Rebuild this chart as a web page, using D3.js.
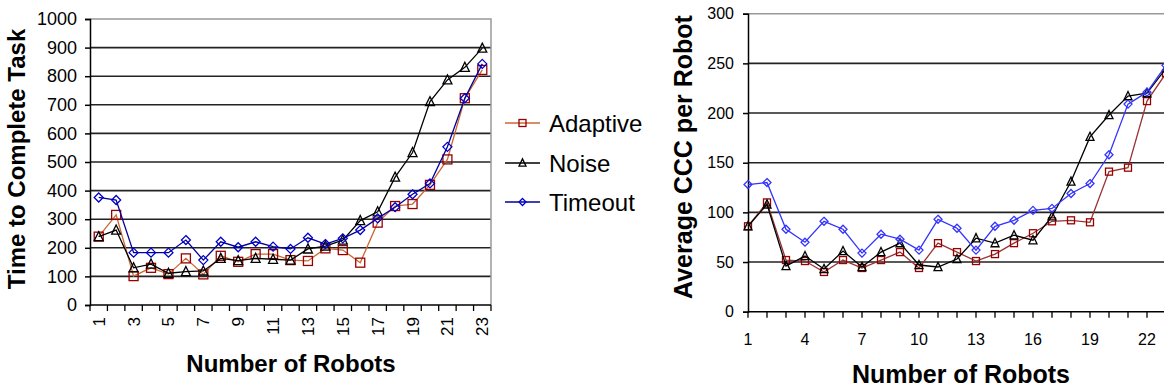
<!DOCTYPE html>
<html><head><meta charset="utf-8">
<script src="https://cdn.jsdelivr.net/npm/d3@7"></script>
<style>body{margin:0;background:#fff}svg{display:block;font-family:"Liberation Sans",Arial,sans-serif}</style>
</head><body><svg id="c" width="1164" height="390"></svg>
<script>
const robots = d3.range(1, 24);
const leftYTicks = [0,100,200,300,400,500,600,700,800,900,1000];
const leftXLabels = [1,3,5,7,9,11,13,15,17,19,21,23];
const leftAdaptive = [239,315,101,130,108,163,107,172,151,178,178,157,154,198,192,148,288,346,353,420,509,723,822];
const leftNoise    = [239,262,130,143,111,117,119,163,155,163,160,157,196,206,227,295,326,447,533,711,787,831,898];
const leftTimeout  = [376,367,183,183,183,227,157,221,202,221,204,196,235,213,233,262,303,342,387,425,553,723,843];
const rightYTicks = [0,50,100,150,200,250,300];
const rightXLabels = [1,4,7,10,13,16,19,22];
const rightAdaptive = [86,110,52,51,40,52,44,52,60,44,69,60,51,58,69,79,91,92,90,141,145,212,240];
const rightNoise    = [86,108,46,56,43,61,45,60,69,47,45,53,74,69,77,72,96,131,176,198,217,220,245];
const rightTimeout  = [128,130,83,70,91,83,59,78,73,62,93,84,62,86,92,102,104,119,129,158,209,221,248];
const seriesNames = ["Adaptive","Noise","Timeout"];

const svg = d3.select("#c");
const FONT = '"Liberation Sans",Arial,sans-serif';

function marker(g, type, x, y, s, color){
  if(type==="square"){
    g.append("rect").attr("x",x-s/2).attr("y",y-s/2).attr("width",s).attr("height",s)
      .attr("fill","none").attr("stroke",color).attr("stroke-width",1.3);
  } else if(type==="triangle"){
    const h=s*0.9;
    g.append("path").attr("d",`M${x},${y-h/2-1}L${x+s/2},${y+h/2}L${x-s/2},${y+h/2}Z`)
      .attr("fill","none").attr("stroke",color).attr("stroke-width",1.3);
  } else {
    const r=s/2;
    g.append("path").attr("d",`M${x},${y-r}L${x+r},${y}L${x},${y+r}L${x-r},${y}Z`)
      .attr("fill","none").attr("stroke",color).attr("stroke-width",1.3);
  }
}

// ---------- LEFT CHART ----------
{
  const x0=90, x1=491, y0=19, y1=305;
  const x = d3.scaleBand().domain(robots).range([x0,x1]);
  const y = d3.scaleLinear().domain([0,1000]).range([y1,y0]);
  const g = svg.append("g");
  // gridlines
  g.selectAll(".gl").data(leftYTicks.filter(d=>d>0&&d<1000)).join("line")
    .attr("x1",x0).attr("x2",x1).attr("y1",d=>y(d)).attr("y2",d=>y(d))
    .attr("stroke","#222").attr("stroke-width",1.6);
  // border top/right gray
  g.append("path").attr("d",`M${x0},${y(1000)}H${x1}V${y1}`).attr("fill","none").attr("stroke","#999").attr("stroke-width",1.5);
  // y axis
  const ya = g.append("g").attr("transform",`translate(${x0},0)`)
    .call(d3.axisLeft(y).tickValues(leftYTicks).tickSize(5).tickPadding(8).tickFormat(d3.format("d")));
  ya.select(".domain").attr("stroke","#000").attr("stroke-width",1.5);
  ya.selectAll("line").attr("stroke","#000").attr("stroke-width",1.5);
  ya.selectAll("text").attr("font-family",FONT).attr("font-size",18).attr("fill","#000");
  // x axis
  g.append("line").attr("x1",x0).attr("x2",x1).attr("y1",y1).attr("y2",y1).attr("stroke","#000").attr("stroke-width",1.5);
  const bounds = robots.map(d=>x(d)).concat([x1]);
  g.selectAll(".xt").data(bounds).join("line")
    .attr("x1",d=>d).attr("x2",d=>d).attr("y1",y1).attr("y2",y1+6).attr("stroke","#000").attr("stroke-width",1.3);
  g.selectAll(".xl").data(leftXLabels).join("text")
    .attr("transform",d=>`translate(${x(d)+x.bandwidth()/2+6},${y1+12}) rotate(-90)`)
    .attr("text-anchor","end").attr("font-size",17).attr("font-family",FONT).text(d=>d);
  // titles
  g.append("text").attr("transform",`translate(25,159) rotate(-90)`).attr("text-anchor","middle")
    .attr("font-weight","bold").attr("font-size",24).attr("font-family",FONT).text("Time to Complete Task");
  g.append("text").attr("x",291).attr("y",372).attr("text-anchor","middle")
    .attr("font-weight","bold").attr("font-size",24).attr("font-family",FONT).text("Number of Robots");
  // series
  const cx = d=>x(d)+x.bandwidth()/2;
  const defs = [
    {v:leftAdaptive, line:"#cc6633", mk:"#990000", type:"square", s:9},
    {v:leftNoise, line:"#000", mk:"#000", type:"triangle", s:9},
    {v:leftTimeout, line:"#000099", mk:"#0000cc", type:"diamond", s:9}
  ];
  defs.forEach(sr=>{
    const data = robots.map((r,i)=>[cx(r), y(sr.v[i])]);
    g.append("path").attr("d",d3.line()(data)).attr("fill","none").attr("stroke",sr.line).attr("stroke-width",1.3);
    data.forEach(p=>marker(g,sr.type,p[0],p[1],sr.s,sr.mk));
  });
  // legend
  const ly = [123,163,202];
  defs.forEach((sr,i)=>{
    g.append("line").attr("x1",505).attr("x2",540).attr("y1",ly[i]).attr("y2",ly[i]).attr("stroke",sr.line).attr("stroke-width",1.5);
    marker(g,sr.type,522.5,ly[i],7,sr.mk);
    g.append("text").attr("x",549).attr("y",ly[i]+8.5).attr("font-size",24).attr("font-family",FONT).text(seriesNames[i]);
  });
}

// ---------- RIGHT CHART ----------
{
  const x0=748, y0=13.7, y1=311.7;
  const x = d3.scalePoint().domain(robots).range([748, 748+22*19]);
  const x1 = 1175;
  const y = d3.scaleLinear().domain([0,300]).range([y1,y0]);
  const g = svg.append("g");
  g.selectAll(".gl").data(rightYTicks.filter(d=>d>0&&d<300)).join("line")
    .attr("x1",x0).attr("x2",x1).attr("y1",d=>y(d)).attr("y2",d=>y(d))
    .attr("stroke","#222").attr("stroke-width",1.6);
  g.append("line").attr("x1",x0).attr("x2",x1).attr("y1",y(300)).attr("y2",y(300)).attr("stroke","#999").attr("stroke-width",1.5);
  const ya = g.append("g").attr("transform",`translate(${x0},0)`)
    .call(d3.axisLeft(y).tickValues(rightYTicks).tickSize(5).tickPadding(9).tickFormat(d3.format("d")));
  ya.select(".domain").attr("stroke","#000").attr("stroke-width",1.5);
  ya.selectAll("line").attr("stroke","#000").attr("stroke-width",1.5);
  ya.selectAll("text").attr("font-family",FONT).attr("font-size",16).attr("fill","#000");
  g.append("line").attr("x1",x0).attr("x2",x1).attr("y1",y1).attr("y2",y1).attr("stroke","#000").attr("stroke-width",1.5);
  g.selectAll(".xt").data(robots).join("line")
    .attr("x1",d=>x(d)).attr("x2",d=>x(d)).attr("y1",y1).attr("y2",y1+6).attr("stroke","#000").attr("stroke-width",1.3);
  g.selectAll(".xl").data(rightXLabels).join("text")
    .attr("x",d=>x(d)).attr("y",345).attr("text-anchor","middle")
    .attr("font-size",16).attr("font-family",FONT).text(d=>d);
  g.append("text").attr("transform",`translate(692,157) rotate(-90)`).attr("text-anchor","middle")
    .attr("font-weight","bold").attr("font-size",25).attr("font-family",FONT).text("Average CCC per Robot");
  g.append("text").attr("x",961).attr("y",383).attr("text-anchor","middle")
    .attr("font-weight","bold").attr("font-size",25).attr("font-family",FONT).text("Number of Robots");
  const defs = [
    {v:rightAdaptive, line:"#993333", mk:"#990000", type:"square", s:7},
    {v:rightNoise, line:"#000", mk:"#000", type:"triangle", s:8},
    {v:rightTimeout, line:"#3333ff", mk:"#3333ff", type:"diamond", s:8}
  ];
  defs.forEach(sr=>{
    const data = robots.map((r,i)=>[x(r), y(sr.v[i])]);
    g.append("path").attr("d",d3.line()(data)).attr("fill","none").attr("stroke",sr.line).attr("stroke-width",1.3);
    data.forEach(p=>marker(g,sr.type,p[0],p[1],sr.s,sr.mk));
  });
}
</script></body></html>
